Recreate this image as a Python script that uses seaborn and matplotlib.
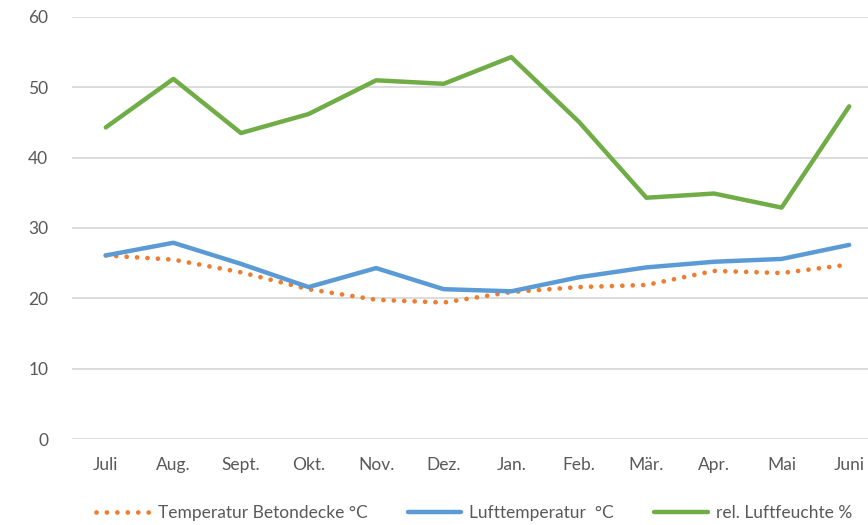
import matplotlib
matplotlib.use("Agg")
import matplotlib.pyplot as plt
import seaborn as sns
import pandas as pd

months = ["Juli", "Aug.", "Sept.", "Okt.", "Nov.", "Dez.", "Jan.", "Feb.", "Mär.", "Apr.", "Mai", "Juni"]
beton_temp = [26.1, 25.5, 23.7, 21.3, 19.8, 19.4, 20.9, 21.6, 21.9, 23.9, 23.6, 24.8]
luft_temp = [26.1, 27.9, 24.9, 21.6, 24.3, 21.3, 21.0, 23.0, 24.4, 25.2, 25.6, 27.6]
luftfeuchte = [44.3, 51.2, 43.5, 46.2, 51.0, 50.5, 54.3, 45.1, 34.3, 34.9, 32.9, 47.3]
series_names = ["Temperatur Betondecke °C", "Lufttemperatur  °C", "rel. Luftfeuchte %"]
y_ticks = [0, 10, 20, 30, 40, 50, 60]

colors = ["#ED7D31", "#5B9BD5", "#70AD47"]
dotted = (0, (0.01, 2.2))

df = pd.DataFrame({
    "Monat": months * 3,
    "pos": list(range(len(months))) * 3,
    "Wert": beton_temp + luft_temp + luftfeuchte,
    "Reihe": [series_names[0]] * 12 + [series_names[1]] * 12 + [series_names[2]] * 12,
})

sns.set_style("white")
plt.rcParams["font.family"] = ["Lato", "DejaVu Sans"]

fig = plt.figure(figsize=(8.68, 5.25), dpi=100)
ax = fig.add_axes([72 / 868, 86 / 525, (883 - 72) / 868, (508 - 86) / 525])

sns.lineplot(data=df, x="pos", y="Wert", hue="Reihe", palette=colors,
             hue_order=series_names, ax=ax, linewidth=3.2, legend=False,
             solid_capstyle="round", solid_joinstyle="round")

# dotted concrete-temperature series
line0 = ax.get_lines()[0]
line0.set_linestyle(dotted)
line0.set_dash_capstyle("round")
line0.set_linewidth(3.4)

ax.set_xlim(-0.5, len(months) - 0.5)
ax.set_ylim(0, 60)
ax.set_yticks(y_ticks)
ax.set_xticks(range(len(months)))
ax.set_xticklabels(months)
ax.yaxis.grid(True, color="#D9D9D9", linewidth=1.3)
ax.set_axisbelow(True)
for s in ax.spines.values():
    s.set_visible(False)
ax.tick_params(axis="both", length=0, labelsize=12.5, colors="#595959")
ax.tick_params(axis="y", pad=17)
ax.tick_params(axis="x", pad=13)
ax.set_xlabel("")
ax.set_ylabel("")

handles = []
for name, c, ls in zip(series_names, colors, [dotted, "-", "-"]):
    h, = ax.plot([], [], color=c, linewidth=3.4 if ls != "-" else 3.2,
                 linestyle=ls, dash_capstyle="round", label=name)
    handles.append(h)

fig.legend(handles=handles, loc="center", bbox_to_anchor=(474 / 868, 1 - 513 / 525),
           ncol=3, frameon=False, fontsize=12.5, handlelength=3.1,
           handletextpad=0.45, columnspacing=2.3, labelcolor="#595959")

fig.savefig("out.png", dpi=100, facecolor="white")
